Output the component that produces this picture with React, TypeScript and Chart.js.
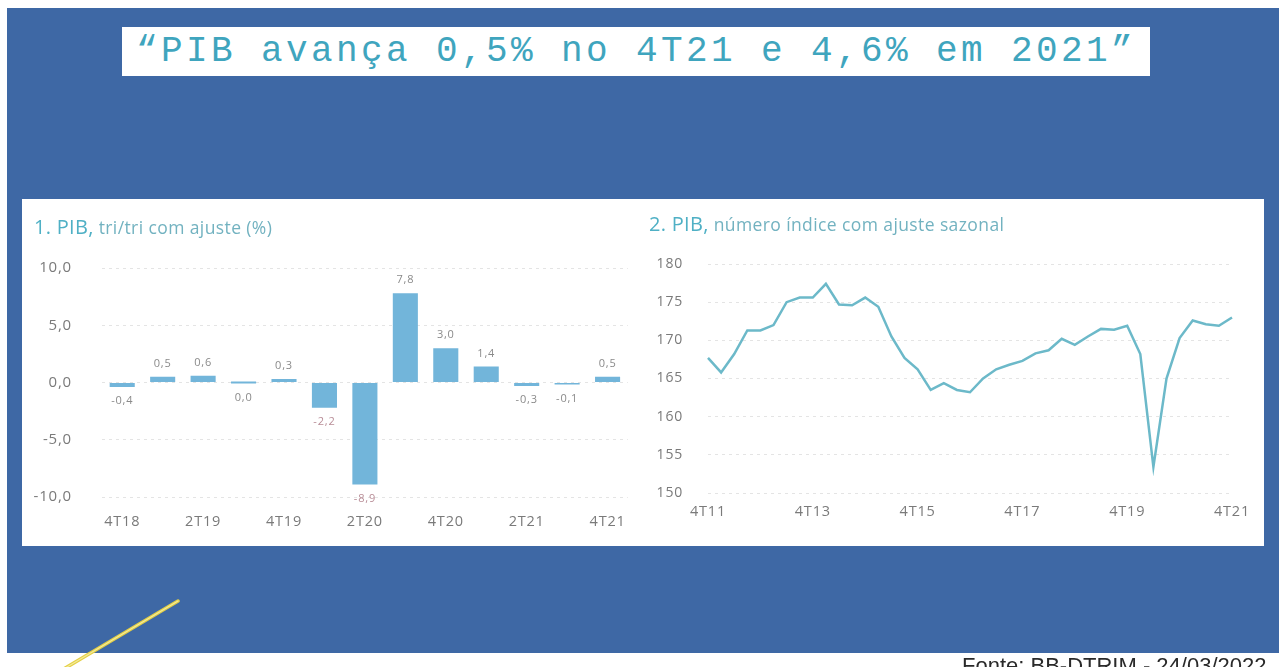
import React, { useEffect, useRef } from "react";
import { Chart, registerables } from "chart.js";

Chart.register(...registerables);

// ---------- Data ----------
const BAR_QUARTERS = ["4T18", "1T19", "2T19", "3T19", "4T19", "1T20", "2T20", "3T20", "4T20", "1T21", "2T21", "3T21", "4T21"];
const BAR_VALUES = [-0.4, 0.5, 0.6, 0.0, 0.3, -2.2, -8.9, 7.8, 3.0, 1.4, -0.3, -0.1, 0.5];
const BAR_Y_TICKS = [-10, -5, 0, 5, 10];

const LINE_QUARTERS = [
  "4T11",
  "1T12", "2T12", "3T12", "4T12",
  "1T13", "2T13", "3T13", "4T13",
  "1T14", "2T14", "3T14", "4T14",
  "1T15", "2T15", "3T15", "4T15",
  "1T16", "2T16", "3T16", "4T16",
  "1T17", "2T17", "3T17", "4T17",
  "1T18", "2T18", "3T18", "4T18",
  "1T19", "2T19", "3T19", "4T19",
  "1T20", "2T20", "3T20", "4T20",
  "1T21", "2T21", "3T21", "4T21",
];
const LINE_VALUES = [
  167.7,
  165.8, 168.2, 171.3, 171.3,
  172.0, 175.0, 175.6, 175.6,
  177.4, 174.7, 174.6, 175.6,
  174.4, 170.5, 167.7, 166.2,
  163.5, 164.4, 163.5, 163.2,
  165.0, 166.2, 166.8, 167.3,
  168.3, 168.7, 170.2, 169.4,
  170.5, 171.5, 171.4, 171.9,
  168.2, 153.4, 165.0, 170.3,
  172.6, 172.1, 171.9, 173.0,
];

const TITLE = "\u201cPIB avança 0,5% no 4T21 e 4,6% em 2021\u201d";
const LEFT_TITLE_MAIN = "1. PIB,";
const LEFT_TITLE_SUB = " tri/tri com ajuste (%)";
const RIGHT_TITLE_MAIN = "2. PIB,";
const RIGHT_TITLE_SUB = " número índice com ajuste sazonal";
const SOURCE = "Fonte: BB-DTRIM - 24/03/2022";

// ---------- Styles ----------
const BLUE = "#3e68a5";
const TEAL = "#4fb0c5";
const BAR_COLOR = "#72b5da";
const LINE_COLOR = "#6cb9c9";
const TICK_COLOR = "#7a7a7a";
const GRID_COLOR = "#e4e4e4";
const FONT = "'Open Sans', 'Noto Sans', sans-serif";

const fmt1 = (v: number) => v.toFixed(1).replace(".", ",");

const spacingPlugin = {
  id: "spacing",
  beforeDraw(chart: any) {
    (chart.ctx as any).letterSpacing = "0.8px";
  },
};

const barLabelPlugin = {
  id: "barLabels",
  afterDatasetsDraw(chart: any) {
    const ctx = chart.ctx;
    const meta = chart.getDatasetMeta(0);
    const data = chart.data.datasets[0].data as number[];
    ctx.save();
    ctx.font = `11px ${FONT}`;
    ctx.textAlign = "center";
    ctx.textBaseline = "middle";
    meta.data.forEach((el: any, i: number) => {
      const v = data[i];
      const pos = v > 0;
      const y = pos ? el.y - 13 : el.y + 14;
      ctx.fillStyle = v <= -2 ? "#b88d97" : "#8a8a8a";
      ctx.fillText(fmt1(v), el.x, y);
    });
    ctx.restore();
  },
};

function BarChart() {
  const ref = useRef<HTMLCanvasElement>(null);
  useEffect(() => {
    const chart = new Chart(ref.current!, {
      type: "bar",
      data: {
        labels: BAR_QUARTERS,
        datasets: [
          {
            data: BAR_VALUES,
            backgroundColor: BAR_COLOR,
            borderWidth: 0,
            categoryPercentage: 1,
            barPercentage: 0.62,
            minBarLength: 2,
          },
        ],
      },
      options: {
        responsive: false,
        animation: false,
        layout: { padding: { top: 70, right: 0, bottom: 0, left: 0 } },
        plugins: { legend: { display: false }, tooltip: { enabled: false }, title: { display: false } },
        scales: {
          x: {
            grid: { display: false, drawTicks: false },
            border: { display: false },
            ticks: {
              autoSkip: false,
              maxRotation: 0,
              padding: 16,
              color: TICK_COLOR,
              font: { family: FONT, size: 14.5 },
              callback: (_v: any, i: number) => (i % 2 === 0 ? BAR_QUARTERS[i] : ""),
            },
            afterFit: (s: any) => {
              s.height = 51;
            },
          },
          y: {
            min: -10,
            max: 10,
            afterBuildTicks: (s: any) => {
              s.ticks = BAR_Y_TICKS.map((v) => ({ value: v }));
            },
            grid: { color: GRID_COLOR, drawTicks: false, lineWidth: 1 },
            border: { display: false, dash: [3, 4] },
            ticks: {
              padding: 30,
              color: TICK_COLOR,
              font: { family: FONT, size: 15 },
              callback: (v: any) => fmt1(Number(v)),
            },
            afterFit: (s: any) => {
              s.width = 80;
            },
          },
        },
      },
      plugins: [spacingPlugin, barLabelPlugin],
    });
    return () => chart.destroy();
  }, []);
  return <canvas ref={ref} width={618} height={350} style={{ display: "block" }} />;
}

function LineChart() {
  const ref = useRef<HTMLCanvasElement>(null);
  useEffect(() => {
    const chart = new Chart(ref.current!, {
      type: "line",
      data: {
        labels: LINE_QUARTERS,
        datasets: [
          {
            data: LINE_VALUES,
            borderColor: LINE_COLOR,
            borderWidth: 2.5,
            pointRadius: 0,
            tension: 0,
            fill: false,
          },
        ],
      },
      options: {
        responsive: false,
        animation: false,
        layout: { padding: { top: 66, right: 32, bottom: 0, left: 0 } },
        plugins: { legend: { display: false }, tooltip: { enabled: false }, title: { display: false } },
        scales: {
          x: {
            offset: false,
            grid: { display: false, drawTicks: false },
            border: { display: false },
            ticks: {
              autoSkip: false,
              maxRotation: 0,
              padding: 10,
              color: TICK_COLOR,
              font: { family: FONT, size: 14.5 },
              callback: (_v: any, i: number) => (i % 8 === 0 ? LINE_QUARTERS[i] : ""),
            },
            afterFit: (s: any) => {
              s.height = 55;
            },
          },
          y: {
            min: 150,
            max: 180,
            ticks: {
              stepSize: 5,
              padding: 25,
              color: TICK_COLOR,
              font: { family: FONT, size: 14 },
            },
            grid: { color: GRID_COLOR, drawTicks: false, lineWidth: 1 },
            border: { display: false, dash: [3, 4] },
            afterFit: (s: any) => {
              s.width = 68;
            },
          },
        },
      },
      plugins: [spacingPlugin],
    });
    return () => chart.destroy();
  }, []);
  return <canvas ref={ref} width={624} height={350} style={{ display: "block" }} />;
}

export default function App() {
  useEffect(() => {
    document.body.style.margin = "0";
    document.body.style.background = "#ffffff";
  }, []);
  const titleMain: React.CSSProperties = { color: TEAL, fontSize: 20, fontFamily: FONT, letterSpacing: 0.3 };
  const titleSub: React.CSSProperties = { color: "#72b2c0", fontSize: 17.5, fontFamily: FONT, letterSpacing: 0.4 };
  return (
    <div style={{ position: "relative", width: 1279, height: 667, overflow: "hidden", background: "#fff" }}>
      <div style={{ position: "absolute", left: 7, top: 8, width: 1272, height: 645, background: BLUE }} />
      <div
        style={{
          position: "absolute",
          left: 122,
          top: 27,
          width: 1028,
          height: 49,
          background: "#fff",
          display: "flex",
          alignItems: "center",
          justifyContent: "center",
        }}
      >
        <span
          style={{
            fontFamily: "'Liberation Mono', 'DejaVu Sans Mono', monospace",
            fontSize: 36,
            letterSpacing: 3.4,
            color: "#3fa5be",
            whiteSpace: "nowrap",
          }}
        >
          {TITLE}
        </span>
      </div>
      <div style={{ position: "absolute", left: 22, top: 199, width: 1242, height: 347, background: "#fff" }} />
      <div style={{ position: "absolute", left: 22, top: 198 }}>
        <BarChart />
      </div>
      <div style={{ position: "absolute", left: 640, top: 198 }}>
        <LineChart />
      </div>
      <div style={{ position: "absolute", left: 34, top: 213, whiteSpace: "nowrap", lineHeight: "28px" }}>
        <span style={titleMain}>{LEFT_TITLE_MAIN}</span>
        <span style={titleSub}>{LEFT_TITLE_SUB}</span>
      </div>
      <div style={{ position: "absolute", left: 649, top: 210, whiteSpace: "nowrap", lineHeight: "28px" }}>
        <span style={titleMain}>{RIGHT_TITLE_MAIN}</span>
        <span style={titleSub}>{RIGHT_TITLE_SUB}</span>
      </div>
      <svg style={{ position: "absolute", left: 0, top: 0 }} width={1279} height={667}>
        <line x1={62} y1={670} x2={178} y2={601} stroke="#e4cf45" strokeWidth={3.5} strokeLinecap="round" />
        <line x1={62} y1={670} x2={178} y2={601} stroke="#f3eb9a" strokeWidth={1.2} strokeLinecap="round" />
      </svg>
      <div
        style={{
          position: "absolute",
          left: 962,
          top: 653,
          fontFamily: "'Liberation Sans', Arial, sans-serif",
          fontSize: 22,
          lineHeight: "25px",
          color: "#2a2a2a",
          whiteSpace: "nowrap",
        }}
      >
        {SOURCE}
      </div>
    </div>
  );
}
